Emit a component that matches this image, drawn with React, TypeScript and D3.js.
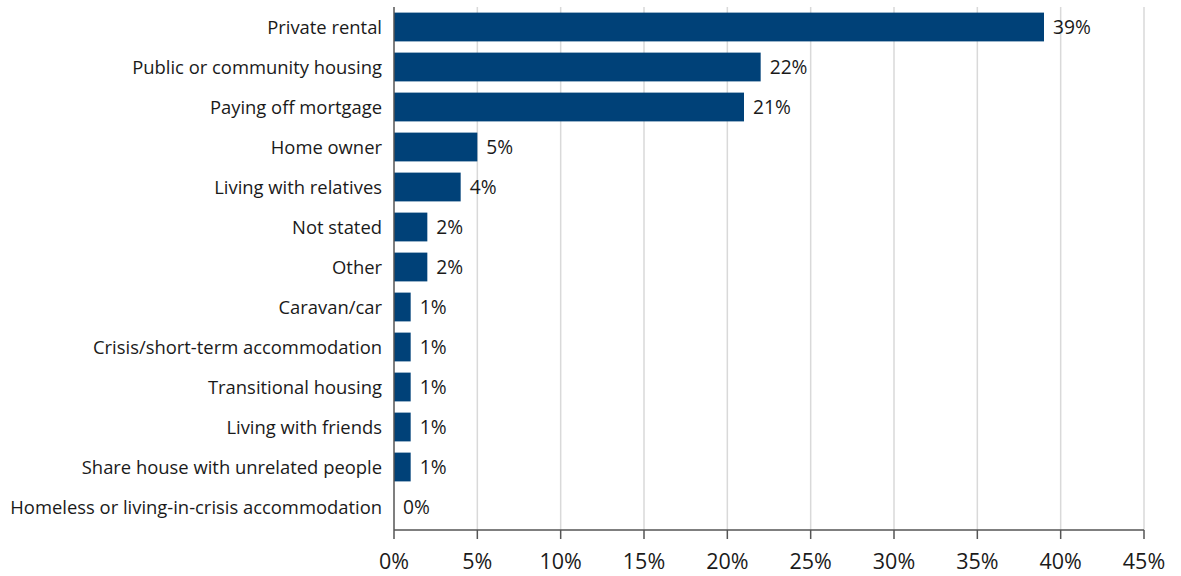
import React, { useEffect, useRef } from "react";
import * as d3 from "d3";

const categories = [
  "Private rental",
  "Public or community housing",
  "Paying off mortgage",
  "Home owner",
  "Living with relatives",
  "Not stated",
  "Other",
  "Caravan/car",
  "Crisis/short-term accommodation",
  "Transitional housing",
  "Living with friends",
  "Share house with unrelated people",
  "Homeless or living-in-crisis accommodation",
];
const values = [39, 22, 21, 5, 4, 2, 2, 1, 1, 1, 1, 1, 0];
const valueLabels = ["39%", "22%", "21%", "5%", "4%", "2%", "2%", "1%", "1%", "1%", "1%", "1%", "0%"];
const xTicks = [0, 5, 10, 15, 20, 25, 30, 35, 40, 45];

const W = 1181;
const H = 576;
const FONT = "'Open Sans', sans-serif";

export default function App() {
  const ref = useRef<SVGSVGElement>(null);
  useEffect(() => {
    const svg = d3.select(ref.current);
    svg.selectAll("*").remove();
    const x = d3.scaleLinear().domain([0, 45]).range([394, 1144]);
    const y = d3.scaleBand().domain(categories).range([7, 527]).paddingInner(0.28).paddingOuter(0.14);
    const top = 7;
    const bottom = 530;

    const g = svg.append("g");
    g.selectAll("line.grid")
      .data(xTicks.filter((t) => t > 0))
      .join("line")
      .attr("x1", (d) => x(d))
      .attr("x2", (d) => x(d))
      .attr("y1", top)
      .attr("y2", bottom)
      .attr("stroke", "#d9d9d9")
      .attr("stroke-width", 1.5);

    g.selectAll("rect.bar")
      .data(values)
      .join("rect")
      .attr("x", x(0))
      .attr("y", (_, i) => y(categories[i])!)
      .attr("width", (d) => x(d) - x(0))
      .attr("height", y.bandwidth())
      .attr("fill", "#004178");

    g.selectAll("text.val")
      .data(values)
      .join("text")
      .attr("x", (d) => x(d) + 9)
      .attr("y", (_, i) => y(categories[i])! + y.bandwidth() / 2)
      .attr("dy", "0.38em")
      .attr("font-family", FONT)
      .attr("font-size", 19.2)
      .attr("fill", "#1a1a1a")
      .text((_, i) => valueLabels[i]);

    g.selectAll("text.cat")
      .data(categories)
      .join("text")
      .attr("x", 382)
      .attr("y", (d) => y(d)! + y.bandwidth() / 2)
      .attr("dy", "0.4em")
      .attr("text-anchor", "end")
      .attr("font-family", FONT)
      .attr("font-size", 18.4)
      .attr("fill", "#1a1a1a")
      .text((d) => d);

    // axes
    g.append("line")
      .attr("x1", x(0))
      .attr("x2", x(0))
      .attr("y1", top)
      .attr("y2", bottom)
      .attr("stroke", "#555")
      .attr("stroke-width", 1.5);
    g.append("line")
      .attr("x1", x(0))
      .attr("x2", x(45))
      .attr("y1", bottom)
      .attr("y2", bottom)
      .attr("stroke", "#555")
      .attr("stroke-width", 1.5);
    g.selectAll("line.tick")
      .data(xTicks)
      .join("line")
      .attr("x1", (d) => x(d))
      .attr("x2", (d) => x(d))
      .attr("y1", bottom)
      .attr("y2", bottom + 9)
      .attr("stroke", "#555")
      .attr("stroke-width", 1.5);
    g.selectAll("text.tick")
      .data(xTicks)
      .join("text")
      .attr("x", (d) => x(d))
      .attr("y", 569)
      .attr("text-anchor", "middle")
      .attr("font-family", FONT)
      .attr("font-size", 21.5)
      .attr("fill", "#1a1a1a")
      .text((d) => `${d}%`);
  }, []);
  return (
    <svg
      ref={ref}
      width={W}
      height={H}
      style={{ position: "absolute", left: 0, top: 0, background: "#fff" }}
    />
  );
}
